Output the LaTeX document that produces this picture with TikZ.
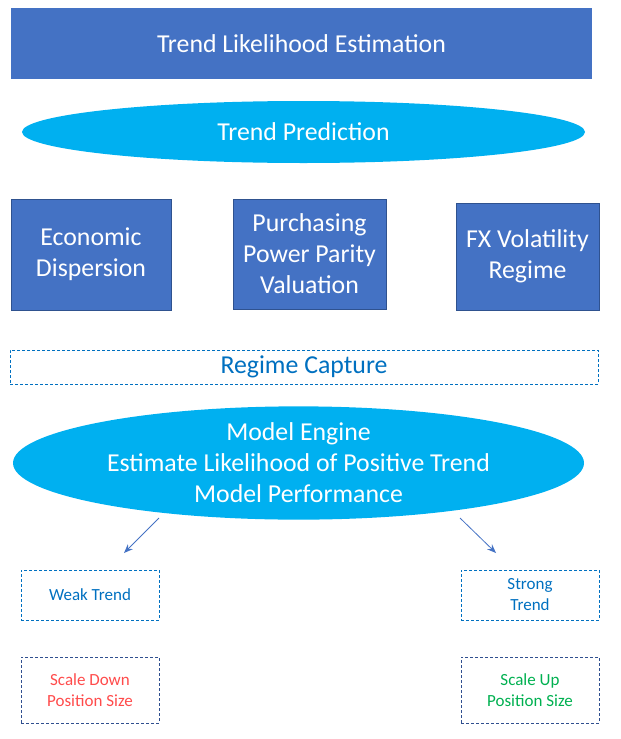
\documentclass[tikz,border=0pt]{standalone}
\usepackage{fontspec}
\setmainfont{Carlito}
\usetikzlibrary{shapes.geometric,arrows.meta}
\definecolor{boxblue}{HTML}{4472C4}
\definecolor{boxedge}{HTML}{2F528F}
\definecolor{cyanfill}{HTML}{00B0F0}
\definecolor{txtblue}{HTML}{0070C0}
\definecolor{txtred}{HTML}{FF4B4B}
\definecolor{txtgreen}{HTML}{00B050}
\definecolor{dashedge}{HTML}{2F4F8F}
\tikzset{
  bigfont/.style={font=\fontsize{25.8}{31}\selectfont},
  solidbox/.style={draw=boxedge, fill=boxblue, text=white, align=center, inner sep=0pt, line width=0.8pt, bigfont},
  oval/.style={ellipse, fill=cyanfill, text=white, align=center, inner sep=0pt, bigfont},
  dashbox/.style={draw=txtblue, dashed, dash pattern=on 3pt off 2pt, align=center, inner sep=0pt, line width=0.8pt},
  smallbox/.style={draw=dashedge, dashed, dash pattern=on 3pt off 2pt, align=center, inner sep=0pt, line width=0.8pt, font=\fontsize{17}{21}\selectfont},
  arr/.style={draw=boxblue, line width=0.8pt, -{Stealth[length=9pt,width=7pt]}}
}
\begin{document}
\begin{tikzpicture}[x=1pt,y=-1pt]
\useasboundingbox (0,0) rectangle (621,739);
\node[solidbox, draw=none, minimum width=581pt, minimum height=71pt] (title) at (301.5,43.5) {Trend Likelihood Estimation};
\node[oval, minimum width=563pt, minimum height=62pt] (pred) at (303.5,132) {Trend Prediction};
\node[solidbox, minimum width=160pt, minimum height=111pt] (econ) at (91,254.5) {Economic\\Dispersion};
\node[solidbox, minimum width=153pt, minimum height=110pt] (ppp) at (309.5,254) {Purchasing\\Power Parity\\Valuation};
\node[solidbox, minimum width=143pt, minimum height=107pt] (fx) at (527.5,256.5) {FX Volatility\\Regime};
\node[dashbox, minimum width=588pt, minimum height=34pt, text=txtblue, bigfont] (regime) at (304,367) {Regime Capture};
\node[oval, minimum width=571pt, minimum height=104pt] (engine) at (298.5,463) {Model Engine\\Estimate Likelihood of Positive Trend\\Model Performance};
\node[smallbox, draw=txtblue, text=txtblue, minimum width=138pt, minimum height=50pt] (weak) at (90,595) {Weak Trend};
\node[smallbox, draw=txtblue, text=txtblue, minimum width=138pt, minimum height=50pt] (strong) at (530,595) {Strong\\Trend};
\node[smallbox, text=txtred, minimum width=138pt, minimum height=66pt] (down) at (90,690) {Scale Down\\Position Size};
\node[smallbox, text=txtgreen, minimum width=138pt, minimum height=66pt] (up) at (530,690) {Scale Up\\Position Size};
\coordinate (la) at (159,518);
\coordinate (lb) at (124,553);
\coordinate (ra) at (460,518);
\coordinate (rb) at (496,553);
\draw[arr] (la) -- (lb);
\draw[arr] (ra) -- (rb);
\end{tikzpicture}
\end{document}
